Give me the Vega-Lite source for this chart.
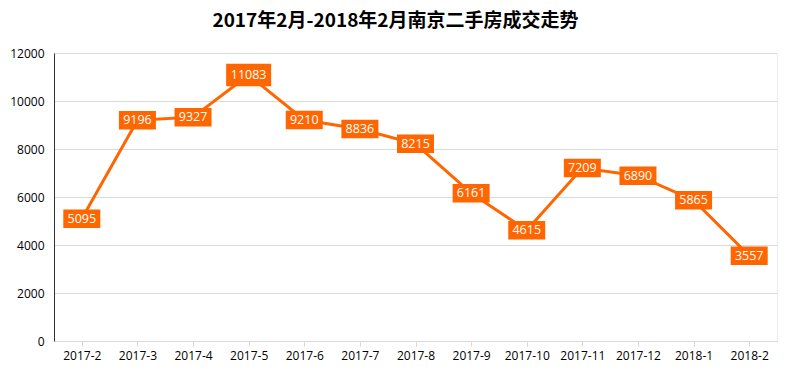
{
  "$schema": "https://vega.github.io/schema/vega-lite/v6.json",
  "width": 723,
  "height": 288,
  "autosize": {"type": "none"},
  "padding": {"left": 54, "top": 53, "right": 15, "bottom": 34},
  "background": "white",
  "title": {
    "text": "2017年2月-2018年2月南京二手房成交走势",
    "font": "Noto Sans CJK SC",
    "fontSize": 19,
    "fontWeight": "bold",
    "color": "#000000",
    "anchor": "middle",
    "dx": -20,
    "offset": 16
  },
  "config": {
    "view": {"stroke": "#eeeeee"},
    "axis": {"labelFont": "Open Sans", "labelFontSize": 12, "labelColor": "#000000"}
  },
  "data": {
    "values": [
      {"month": "2017-2", "v": 5095},
      {"month": "2017-3", "v": 9196},
      {"month": "2017-4", "v": 9327},
      {"month": "2017-5", "v": 11083},
      {"month": "2017-6", "v": 9210},
      {"month": "2017-7", "v": 8836},
      {"month": "2017-8", "v": 8215},
      {"month": "2017-9", "v": 6161},
      {"month": "2017-10", "v": 4615},
      {"month": "2017-11", "v": 7209},
      {"month": "2017-12", "v": 6890},
      {"month": "2018-1", "v": 5865},
      {"month": "2018-2", "v": 3557}
    ]
  },
  "encoding": {
    "x": {
      "field": "month",
      "type": "ordinal",
      "sort": null,
      "scale": {"paddingInner": 0, "paddingOuter": 0},
      "axis": {
        "title": null,
        "labelAngle": 0,
        "bandPosition": 0,
        "tickColor": "#d9d9d9",
        "tickSize": 5,
        "domainColor": "#d9d9d9",
        "labelPadding": 4
      }
    },
    "y": {
      "field": "v",
      "type": "quantitative",
      "scale": {"domain": [0, 12000]},
      "axis": {
        "title": null,
        "format": "d",
        "values": [0, 2000, 4000, 6000, 8000, 10000, 12000],
        "gridColor": "#d9d9d9",
        "domainColor": "#333333",
        "ticks": false,
        "labelPadding": 10
      }
    }
  },
  "layer": [
    {"mark": {"type": "line", "color": "#FF6600", "strokeWidth": 3}},
    {
      "mark": {"type": "point", "shape": "M-1,-0.5H1V0.5H-1Z", "filled": true, "color": "#FF6600", "opacity": 1},
      "encoding": {
        "size": {"condition": {"test": "datum.v >= 10000", "value": 2025}, "value": 1369}
      }
    },
    {
      "mark": {"type": "text", "color": "#ffffff", "font": "Open Sans", "fontSize": 12.5, "align": "center", "baseline": "middle"},
      "encoding": {"text": {"field": "v", "type": "quantitative", "format": "d"}}
    }
  ]
}
